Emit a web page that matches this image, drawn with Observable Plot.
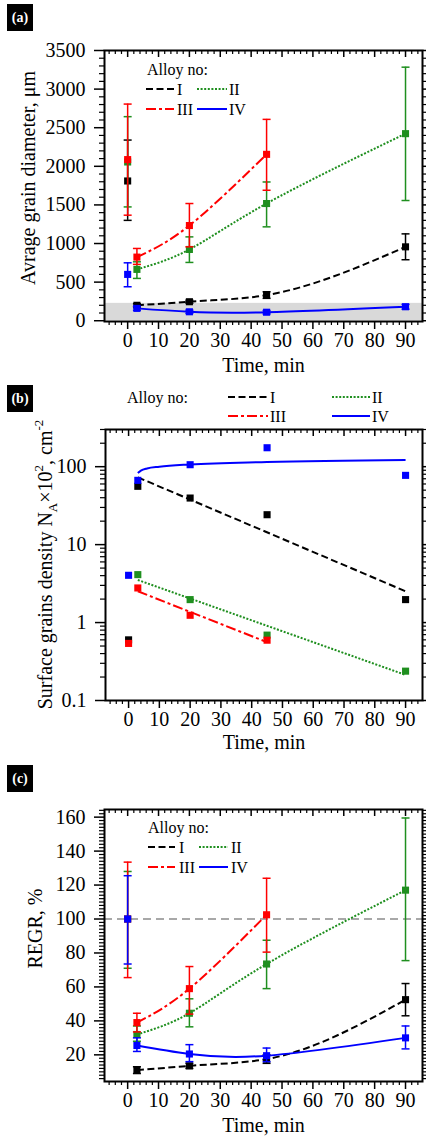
<!DOCTYPE html>
<html><head><meta charset="utf-8">
<script src="https://cdn.jsdelivr.net/npm/d3@7"></script>
<script src="https://cdn.jsdelivr.net/npm/@observablehq/plot@0.6"></script>
<style>
body{margin:0;background:#fff;}
#root{position:relative;width:426px;height:1136px;overflow:hidden;font-family:"Liberation Serif","Times New Roman",serif;}
.panel{position:absolute;left:0;}
.panel text{font-family:"Liberation Serif","Times New Roman",serif;}
.tag{position:absolute;left:7px;width:26px;height:27px;background:#000;color:#fff;font:bold 14px "Liberation Serif",serif;display:flex;align-items:center;justify-content:center;}
#overlay{position:absolute;left:0;top:0;pointer-events:none;}
</style></head>
<body><div id="root"></div>
<script>
// ---------- DATA ----------
const timeAll = [0, 3, 20, 45, 90];
const timeIII = [0, 3, 20, 45];
const timeII_b = [3, 20, 45, 90];
const timeI_c = [3, 20, 45, 90];
const seriesNames = ["I", "II", "III", "IV"];

// (a) Average grain diameter, um
const diamI = [1810, 200, 246, 332, 957];
const diamILo = [1300, 180, 226, 290, 790];
const diamIHi = [2340, 220, 266, 375, 1125];
const diamII = [2056, 665, 923, 1518, 2423];
const diamIILo = [1474, 548, 755, 1216, 1557];
const diamIIHi = [2643, 763, 1086, 1797, 3284];
const diamIII = [2087, 824, 1233, 2155];
const diamIIILo = [1367, 730, 957, 1690];
const diamIIIHi = [2806, 936, 1518, 2608];
const diamIV = [600, 160, 116, 110, 181];
const diamIVLo = [440, 135, 95, 88, 150];
const diamIVHi = [750, 185, 137, 132, 212];
const greyBand = [0, 225];
const diamTicks = [0, 500, 1000, 1500, 2000, 2500, 3000, 3500];

// (b) Surface grains density
const densI = [0.6, 56, 39.6, 24.2, 1.97];
const densII = [4.12, 1.97, 0.69, 0.238];
const densIII = [0.54, 2.78, 1.24, 0.594];
const densIV = [4.04, 66.8, 106, 175, 77.4];
const fitIt = [3, 90], fitIv = [73, 2.52];
const fitIIt = [3, 90], fitIIv = [3.52, 0.213];
const fitIIIt = [3, 45], fitIIIv = [2.52, 0.56];
const fitIVt = [3, 4, 6, 10, 20, 45, 90], fitIVv = [83, 89, 95, 100, 107, 115, 122];
const densTicks = [0.1, 1, 10, 100];
const densTickLabels = ["0.1", "1", "10", "100"];

// (c) REGR, %
const regrI = [11, 13.5, 17.5, 52.5];
const regrILo = [9, 12, 15, 43];
const regrIHi = [13, 15, 20, 62];
const regrII = [100, 32, 44.5, 73.5, 117];
const regrIILo = [71, 28, 36.5, 59, 75.5];
const regrIIHi = [128, 37, 53, 87.5, 159.5];
const regrIII = [100, 39, 59, 102.5];
const regrIIILo = [65.5, 33.5, 44, 80.5];
const regrIIIHi = [133.5, 44.5, 72, 124];
const regrIV = [100, 25.5, 20.5, 19.5, 30];
const regrIVLo = [73.5, 22, 16, 16, 23.5];
const regrIVHi = [125.5, 30, 26, 24, 37];
const regrRef = [100];
const regrTicks = [20, 40, 60, 80, 100, 120, 140, 160];

const timeTicks = [0, 10, 20, 30, 40, 50, 60, 70, 80, 90];

// ---------- STYLE ----------
const styles = {
  I: {color: "#000000", dash: "7,3.5", curve: "monotone-x"},
  II: {color: "#1f8f1f", dash: "2,1.6", curve: "natural"},
  III: {color: "#ff0000", dash: "10,3,3,3", curve: "natural"},
  IV: {color: "#0000ff", dash: null, curve: "natural"}
};
const FONT = '"Liberation Serif","Times New Roman",serif';
const capSymbol = {draw(ctx, size) { const w = Math.sqrt(size / Math.PI); ctx.moveTo(-w, 0); ctx.lineTo(w, 0); }};

function rows(t, v, lo, hi) { return t.map((x, i) => ({t: x, v: v[i], lo: lo ? lo[i] : undefined, hi: hi ? hi[i] : undefined})); }

function lineOpts(s, curve) {
  const st = styles[s];
  const o = {x: "t", y: "v", stroke: st.color, strokeWidth: 2, curve: curve || st.curve, strokeLinecap: "butt", strokeLinejoin: "miter"};
  if (st.dash) o.strokeDasharray = st.dash;
  return o;
}

function seriesMarks(data, s, withErr) {
  const st = styles[s];
  const out = [];
  out.push(Plot.line(data.filter(d => d.t > 0), lineOpts(s)));
  if (withErr) {
    out.push(Plot.ruleX(data, {x: "t", y1: "lo", y2: "hi", stroke: st.color, strokeWidth: 1.5}));
    out.push(Plot.dot(data, {x: "t", y: "lo", symbol: capSymbol, r: 4, stroke: st.color, fill: "none", strokeWidth: 1.5}));
    out.push(Plot.dot(data, {x: "t", y: "hi", symbol: capSymbol, r: 4, stroke: st.color, fill: "none", strokeWidth: 1.5}));
  }
  out.push(Plot.dot(data, {x: "t", y: "v", symbol: "square", r: 4, fill: st.color, stroke: "none"}));
  return out;
}

function frameMarks(innerH, yMajor, yMinor, yFormat) {
  const xMinor = d3.range(-6, 96, 2).filter(d => d % 10 !== 0);
  return [
    Plot.frame({stroke: "#000", strokeWidth: 2}),
    Plot.axisX({ticks: timeTicks, anchor: "bottom", tickSize: 8, tickPadding: 3, tickFormat: d => String(d), label: null, strokeWidth: 1.5, fontSize: 20, fontFamily: FONT}),
    Plot.axisX({ticks: xMinor, anchor: "bottom", tickSize: 4, tickFormat: () => "", label: null, strokeWidth: 1.2}),
    Plot.tickX(timeTicks, {x: d => d, insetBottom: innerH - 7, strokeWidth: 1.5}),
    Plot.tickX(xMinor, {x: d => d, insetBottom: innerH - 4, strokeWidth: 1.2}),
    Plot.axisY({ticks: yMajor, anchor: "left", tickSize: 10, tickPadding: 9, tickFormat: yFormat, label: null, strokeWidth: 1.5, fontSize: 20, fontFamily: FONT}),
    Plot.axisY({ticks: yMinor, anchor: "left", tickSize: 5, tickFormat: () => "", label: null, strokeWidth: 1.2}),
    Plot.axisY({ticks: yMajor, anchor: "right", tickSize: 6, tickFormat: () => "", label: null, strokeWidth: 1.5}),
    Plot.axisY({ticks: yMinor, anchor: "right", tickSize: 3, tickFormat: () => "", label: null, strokeWidth: 1.2})
  ];
}

const root = document.getElementById("root");
function place(svg, top) {
  svg.classList.add("panel"); svg.style.top = top + "px"; svg.style.fontFamily = FONT; svg.setAttribute("font-family", FONT);
  root.appendChild(svg); return svg;
}
const plotStyle = {fontFamily: FONT, fontSize: "20px", background: "transparent", color: "black", overflow: "visible"};
const textOpts = {text: d => d, fontSize: 20, fontFamily: FONT, lineAnchor: "middle", textAnchor: "middle"};

// ---------- PANEL (a) ----------
{
  const innerH = 271;
  const yMinor = d3.range(0, 3501, 100).filter(d => d % 500 !== 0);
  const marks = [
    Plot.rect([greyBand], {y1: d => d[0], y2: d => d[1], fill: "#d9d9d9"}),
    ...seriesMarks(rows(timeAll, diamI, diamILo, diamIHi), "I", true),
    ...seriesMarks(rows(timeAll, diamII, diamIILo, diamIIHi), "II", true),
    ...seriesMarks(rows(timeIII, diamIII, diamIIILo, diamIIIHi), "III", true),
    ...seriesMarks(rows(timeAll, diamIV, diamIVLo, diamIVHi), "IV", true),
    ...frameMarks(innerH, diamTicks, yMinor, d => String(d)),
    Plot.text(["Time, min"], {...textOpts, frameAnchor: "bottom", dy: 44}),
    Plot.text(["Avrage grain diameter, μm"], {...textOpts, frameAnchor: "left", rotate: -90, dx: -76, dy: -8})
  ];
  const p = Plot.plot({width: 426, height: 380, marginTop: 50, marginBottom: 59, marginLeft: 104, marginRight: 4,
    style: plotStyle, x: {domain: [-7.5, 95.5]}, y: {domain: [-10, 3500]}, marks});
  place(p, 0);
}

// ---------- PANEL (b) ----------
{
  const innerH = 271;
  const yMinor = [];
  [0.1, 1, 10, 100].forEach(dec => { for (let k = 2; k <= 9; k++) { const v = +(k * dec).toPrecision(3); if (v <= 300) yMinor.push(v); } });
  const marks = [
    Plot.line(rows(fitIt, fitIv), lineOpts("I", "linear")),
    Plot.line(rows(fitIIt, fitIIv), lineOpts("II", "linear")),
    Plot.line(rows(fitIIIt, fitIIIv), lineOpts("III", "linear")),
    Plot.line(rows(fitIVt, fitIVv), lineOpts("IV", "monotone-x")),
    Plot.dot(rows(timeAll, densI), {x: "t", y: "v", symbol: "square", r: 4, fill: styles.I.color}),
    Plot.dot(rows(timeII_b, densII), {x: "t", y: "v", symbol: "square", r: 4, fill: styles.II.color}),
    Plot.dot(rows(timeIII, densIII), {x: "t", y: "v", symbol: "square", r: 4, fill: styles.III.color}),
    Plot.dot(rows(timeAll, densIV), {x: "t", y: "v", symbol: "square", r: 4, fill: styles.IV.color}),
    ...frameMarks(innerH, densTicks, yMinor, d => densTickLabels[densTicks.indexOf(d)]),
    Plot.text(["Time, min"], {...textOpts, frameAnchor: "bottom", dy: 42})
  ];
  const p = Plot.plot({width: 426, height: 375, marginTop: 49, marginBottom: 55, marginLeft: 105, marginRight: 4,
    style: plotStyle, x: {domain: [-7.5, 95.5]}, y: {type: "log", domain: [0.1, 300]}, marks});
  place(p, 380);
  const svg = d3.select(p);
  const lab = svg.append("text").attr("transform", `translate(45,${49 + innerH / 2}) rotate(-90)`)
    .attr("text-anchor", "middle").attr("font-size", 20).attr("font-family", FONT).attr("fill", "black");
  lab.append("tspan").attr("dy", "0.35em").text("Surface grains density N");
  lab.append("tspan").attr("dy", 5).attr("font-size", 13).text("A");
  lab.append("tspan").attr("dy", -5).text("×10");
  lab.append("tspan").attr("dy", -9).attr("font-size", 13).text("2");
  lab.append("tspan").attr("dy", 9).text(", cm");
  lab.append("tspan").attr("dy", -9).attr("font-size", 13).text("-2");
}

// ---------- PANEL (c) ----------
{
  const innerH = 272;
  const yMinor = d3.range(6, 165, 2).filter(d => d % 20 !== 0);
  const marks = [
    Plot.ruleY(regrRef, {y: d => d, stroke: "#8c8c8c", strokeWidth: 1.5, strokeDasharray: "8,5"}),
    ...seriesMarks(rows(timeI_c, regrI, regrILo, regrIHi), "I", true),
    ...seriesMarks(rows(timeAll, regrII, regrIILo, regrIIHi), "II", true),
    ...seriesMarks(rows(timeIII, regrIII, regrIIILo, regrIIIHi), "III", true),
    ...seriesMarks(rows(timeAll, regrIV, regrIVLo, regrIVHi), "IV", true),
    ...frameMarks(innerH, regrTicks, yMinor, d => String(d)),
    Plot.text(["Time, min"], {...textOpts, frameAnchor: "bottom", dy: 44}),
    Plot.text(["REGR, %"], {...textOpts, frameAnchor: "left", rotate: -90, dx: -69, dy: -17})
  ];
  const p = Plot.plot({width: 426, height: 381, marginTop: 54, marginBottom: 55, marginLeft: 104, marginRight: 4,
    style: plotStyle, x: {domain: [-7.5, 95.5]}, y: {domain: [4.3, 164.5]}, marks});
  place(p, 755);
}

// ---------- PANEL TAGS ----------
[["(a)", 4], ["(b)", 385], ["(c)", 765]].forEach(([t, top]) => {
  const d = document.createElement("div"); d.className = "tag"; d.style.top = top + "px"; d.textContent = t; root.appendChild(d);
});

// ---------- LEGENDS ----------
const overlay = d3.select(root).append("svg").attr("id", "overlay").attr("width", 426).attr("height", 1136);
function legend(title, tx, ty, items) {
  overlay.append("text").attr("x", tx).attr("y", ty).attr("dy", "0.35em").attr("font-family", FONT).attr("font-size", 16).text(title);
  items.forEach(([s, x1, x2, y, lx]) => {
    const st = styles[s];
    const l = overlay.append("line").attr("x1", x1).attr("x2", x2).attr("y1", y).attr("y2", y).attr("stroke", st.color).attr("stroke-width", 2);
    if (st.dash) l.attr("stroke-dasharray", st.dash);
    overlay.append("text").attr("x", lx).attr("y", y).attr("dy", "0.35em").attr("font-family", FONT).attr("font-size", 16).text(s);
  });
}
legend("Alloy no:", 147, 69, [["I", 146, 174, 89, 177], ["II", 197, 227, 89, 229], ["III", 146, 174, 109, 177], ["IV", 197, 227, 109, 229]]);
legend("Alloy no:", 127, 397, [["I", 228, 268, 397, 270], ["II", 332, 370, 397, 372], ["III", 228, 268, 416, 270], ["IV", 332, 370, 416, 372]]);
legend("Alloy no:", 148, 827, [["I", 148, 175, 847, 179], ["II", 199, 228, 847, 231], ["III", 148, 175, 867, 179], ["IV", 199, 228, 867, 231]]);
</script></body></html>
